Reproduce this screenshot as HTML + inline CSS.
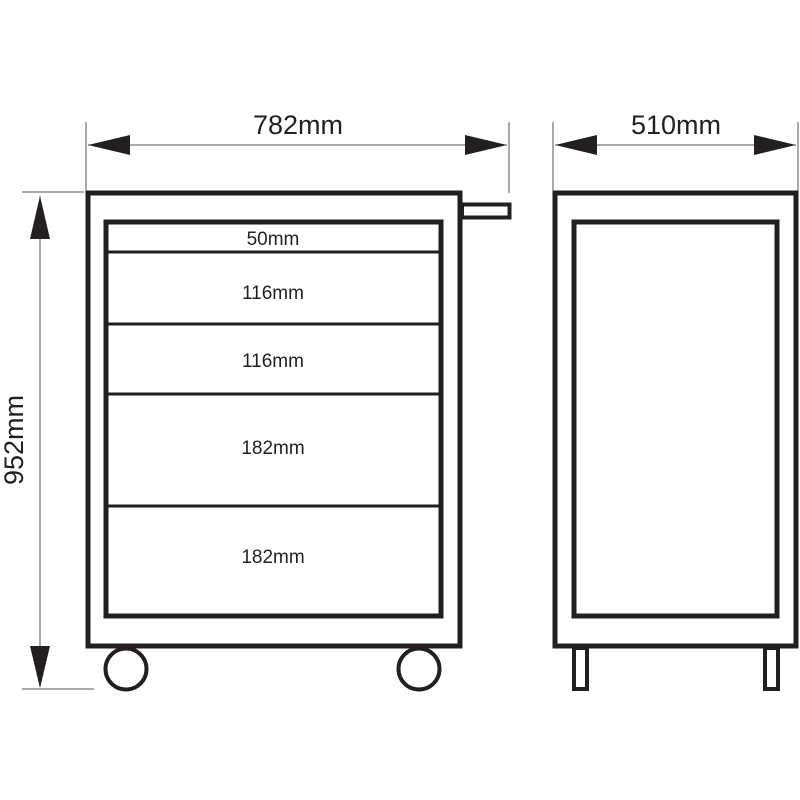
<!DOCTYPE html>
<html><head><style>html,body{margin:0;padding:0;background:#fff}svg{display:block}</style></head><body>
<svg width="800" height="800" viewBox="0 0 800 800" xmlns="http://www.w3.org/2000/svg">
<g stroke="#555" stroke-width="1" fill="none">
<line x1="86" y1="122" x2="86" y2="191"/>
<line x1="509" y1="122" x2="509" y2="193"/>
<line x1="553" y1="122" x2="553" y2="191"/>
<line x1="798" y1="122" x2="798" y2="191"/>
<line x1="22" y1="192" x2="84" y2="192"/>
<line x1="22" y1="689" x2="94" y2="689"/>
<line x1="88" y1="145" x2="507" y2="145"/>
<line x1="555" y1="145" x2="796" y2="145"/>
<line x1="40" y1="196" x2="40" y2="687"/>
</g>
<g fill="#231f20">
<polygon points="88,145 130,135 130,155"/>
<polygon points="507,145 465,135 465,155"/>
<polygon points="555,145 597,135 597,155"/>
<polygon points="796,145 754,135 754,155"/>
<polygon points="40,196 30,239 50,239"/>
<polygon points="40,688 30,646 50,646"/>
</g>
<g stroke="#231f20" stroke-width="5" fill="none">
<rect x="88" y="193" width="372" height="453"/>
<rect x="106" y="222" width="335" height="394"/>
<line x1="106" y1="252" x2="441" y2="252" stroke-width="3"/>
<line x1="106" y1="324" x2="441" y2="324" stroke-width="3"/>
<line x1="106" y1="394" x2="441" y2="394" stroke-width="3"/>
<line x1="106" y1="506" x2="441" y2="506" stroke-width="3"/>
<rect x="462" y="204.5" width="47.5" height="13" stroke-width="4"/>
<circle cx="126" cy="669" r="20.5" stroke-width="4"/>
<circle cx="419" cy="669" r="20.5" stroke-width="4"/>
<rect x="555" y="193" width="241" height="453"/>
<rect x="574" y="222" width="203" height="394"/>
<rect x="574" y="648" width="13" height="41" stroke-width="4"/>
<rect x="765" y="648" width="13" height="41" stroke-width="4"/>
</g>
<g font-family="Liberation Sans, sans-serif" fill="#231f20" text-anchor="middle">
<text x="298" y="134" font-size="27">782mm</text>
<text x="676" y="134" font-size="27">510mm</text>
<text transform="translate(23,440) rotate(-90)" font-size="27">952mm</text>
<text x="273" y="245" font-size="19">50mm</text>
<text x="273" y="299" font-size="19">116mm</text>
<text x="273" y="367" font-size="19">116mm</text>
<text x="273" y="454" font-size="19">182mm</text>
<text x="273" y="563" font-size="19">182mm</text>
</g>
</svg>
</body></html>
